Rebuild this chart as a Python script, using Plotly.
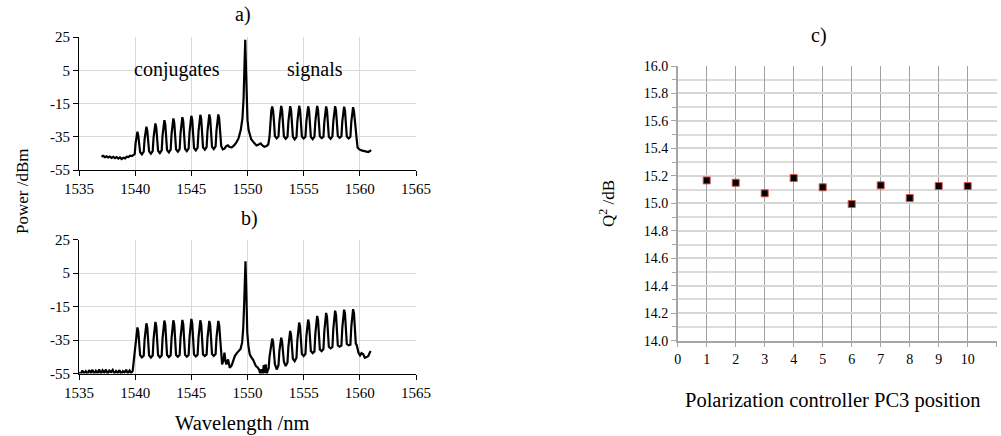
import plotly.graph_objects as go

# ---------------- data ----------------
# a) spectrum (wavelength nm, power dBm)
spec_a = [
    (1537.0,-47.0),(1537.15,-46.5),(1537.3,-47.3),(1537.45,-46.8),(1537.6,-47.5),(1537.75,-46.9),(1537.9,-47.7),
    (1538.05,-47.1),(1538.2,-47.9),(1538.35,-47.2),(1538.5,-48.1),(1538.65,-47.4),(1538.8,-48.4),(1538.95,-47.6),
    (1539.1,-48.0),(1539.25,-47.0),(1539.4,-47.2),(1539.55,-46.4),(1539.7,-46.6),(1539.85,-45.8),(1539.96,-45.4),
    (1540.04,-38.7),(1540.12,-34.5),(1540.2,-32.0),(1540.28,-34.5),(1540.36,-38.7),(1540.44,-44.2),(1540.6,-45.6),
    (1540.76,-44.0),(1540.84,-36.5),(1540.92,-31.5),(1541.0,-29.0),(1541.08,-31.5),(1541.16,-36.5),(1541.24,-43.8),(1541.4,-45.2),
    (1541.56,-43.6),(1541.64,-35.3),(1541.72,-29.5),(1541.8,-27.0),(1541.88,-29.5),(1541.96,-35.3),(1542.04,-43.4),(1542.2,-44.8),
    (1542.36,-43.2),(1542.44,-34.1),(1542.52,-27.5),(1542.6,-25.0),(1542.68,-27.5),(1542.76,-34.1),(1542.84,-43.0),(1543.0,-44.4),
    (1543.16,-42.8),(1543.24,-33.4),(1543.32,-26.5),(1543.4,-24.0),(1543.48,-26.5),(1543.56,-33.4),(1543.64,-42.6),(1543.8,-44.0),
    (1543.96,-42.4),(1544.04,-32.8),(1544.12,-25.7),(1544.2,-23.2),(1544.28,-25.7),(1544.36,-32.8),(1544.44,-42.2),(1544.6,-43.6),
    (1544.76,-42.0),(1544.84,-32.2),(1544.92,-24.9),(1545.0,-22.4),(1545.08,-24.9),(1545.16,-32.2),(1545.24,-41.8),(1545.4,-43.2),
    (1545.56,-41.6),(1545.64,-31.7),(1545.72,-24.3),(1545.8,-21.8),(1545.88,-24.3),(1545.96,-31.7),(1546.04,-41.4),(1546.2,-42.8),
    (1546.36,-41.2),(1546.44,-31.4),(1546.52,-24.1),(1546.6,-21.6),(1546.68,-24.1),(1546.76,-31.4),(1546.84,-41.0),(1547.0,-42.4),
    (1547.16,-40.8),(1547.24,-31.2),(1547.32,-24.1),(1547.4,-21.6),(1547.48,-24.1),(1547.56,-31.2),(1547.66,-40.5),
    (1547.8,-42.6),(1547.95,-42.2),(1548.1,-40.6),(1548.25,-40.2),(1548.4,-41.2),(1548.6,-41.4),(1548.8,-40.2),
    (1549.0,-38.5),(1549.2,-36.0),(1549.4,-31.0),(1549.55,-24.0),(1549.65,-12.0),(1549.72,5.0),(1549.8,23.4),
    (1549.87,5.0),(1549.93,-12.0),(1550.0,-25.0),(1550.1,-31.0),(1550.33,-36.5),(1550.6,-38.8),(1550.8,-40.2),
    (1551.0,-39.6),(1551.17,-39.0),(1551.35,-40.4),(1551.5,-41.0),(1551.7,-40.6),(1551.85,-39.6),(1551.96,-35.0),
    (1552.04,-26.0),(1552.12,-19.3),(1552.2,-16.8),(1552.28,-19.3),(1552.36,-26.0),(1552.44,-34.6),(1552.6,-36.0),
    (1552.76,-34.8),(1552.84,-25.8),(1552.92,-19.0),(1553.0,-16.5),(1553.08,-19.0),(1553.16,-25.8),(1553.24,-34.7),(1553.4,-36.2),
    (1553.56,-35.0),(1553.64,-25.9),(1553.72,-19.1),(1553.8,-16.6),(1553.88,-19.1),(1553.96,-25.9),(1554.04,-34.9),(1554.2,-36.6),
    (1554.36,-35.2),(1554.44,-25.8),(1554.52,-18.9),(1554.6,-16.4),(1554.68,-18.9),(1554.76,-25.8),(1554.84,-34.8),(1555.0,-36.0),
    (1555.16,-35.0),(1555.24,-25.9),(1555.32,-19.2),(1555.4,-16.7),(1555.48,-19.2),(1555.56,-25.9),(1555.64,-35.1),(1555.8,-36.4),
    (1555.96,-34.9),(1556.04,-25.7),(1556.12,-19.0),(1556.2,-16.5),(1556.28,-19.0),(1556.36,-25.7),(1556.44,-34.7),(1556.6,-35.8),
    (1556.76,-35.1),(1556.84,-26.0),(1556.92,-19.3),(1557.0,-16.8),(1557.08,-19.3),(1557.16,-26.0),(1557.24,-35.0),(1557.4,-36.2),
    (1557.56,-34.8),(1557.64,-25.7),(1557.72,-19.1),(1557.8,-16.6),(1557.88,-19.1),(1557.96,-25.7),(1558.04,-34.6),(1558.2,-35.6),
    (1558.36,-34.7),(1558.44,-25.8),(1558.52,-19.4),(1558.6,-16.9),(1558.68,-19.4),(1558.76,-25.8),(1558.84,-34.9),(1559.0,-36.0),
    (1559.16,-35.0),(1559.24,-26.1),(1559.32,-19.7),(1559.4,-17.2),(1559.48,-19.7),(1559.56,-26.1),(1559.64,-35.2),
    (1559.72,-36.5),(1559.8,-41.5),(1559.95,-42.6),(1560.15,-43.2),(1560.35,-43.6),(1560.55,-44.0),(1560.75,-44.2),
    (1560.9,-43.6),(1561.0,-43.0),
]

# b) spectrum (wavelength nm, power dBm)
spec_b = [
    (1535.0,-54.4),(1535.15,-55.6),(1535.3,-53.2),(1535.45,-54.9),(1535.6,-53.6),(1535.75,-55.5),(1535.9,-53.0),
    (1536.05,-54.6),(1536.2,-52.8),(1536.35,-55.3),(1536.5,-53.4),(1536.65,-54.8),(1536.8,-52.6),(1536.95,-55.2),
    (1537.1,-53.1),(1537.25,-54.5),(1537.4,-52.7),(1537.55,-55.4),(1537.7,-53.3),(1537.85,-54.2),(1538.0,-52.9),
    (1538.15,-55.1),(1538.3,-53.5),(1538.45,-54.7),(1538.6,-53.0),(1538.75,-55.3),(1538.9,-53.6),(1539.05,-54.4),
    (1539.2,-52.8),(1539.35,-55.0),(1539.5,-53.2),(1539.65,-54.6),(1539.78,-53.4),(1539.86,-48.0),(1539.94,-46.0),
    (1540.04,-36.0),(1540.12,-30.0),(1540.2,-27.5),(1540.28,-30.0),(1540.36,-36.0),(1540.44,-44.0),(1540.6,-45.4),
    (1540.76,-44.4),(1540.84,-34.7),(1540.92,-27.5),(1541.0,-25.0),(1541.08,-27.5),(1541.16,-34.7),(1541.24,-44.2),(1541.4,-45.5),
    (1541.56,-44.3),(1541.64,-34.3),(1541.72,-26.7),(1541.8,-24.2),(1541.88,-26.7),(1541.96,-34.3),(1542.04,-44.0),(1542.2,-45.3),
    (1542.36,-44.2),(1542.44,-33.9),(1542.52,-25.9),(1542.6,-23.4),(1542.68,-25.9),(1542.76,-33.9),(1542.84,-44.0),(1543.0,-45.2),
    (1543.16,-44.1),(1543.24,-33.8),(1543.32,-25.7),(1543.4,-23.2),(1543.48,-25.7),(1543.56,-33.8),(1543.64,-43.9),(1543.8,-45.0),
    (1543.96,-44.0),(1544.04,-33.6),(1544.12,-25.5),(1544.2,-23.0),(1544.28,-25.5),(1544.36,-33.6),(1544.44,-43.8),(1544.6,-45.0),
    (1544.76,-43.9),(1544.84,-33.3),(1544.92,-24.9),(1545.0,-22.4),(1545.08,-24.9),(1545.16,-33.3),(1545.24,-43.7),(1545.4,-44.8),
    (1545.56,-43.8),(1545.64,-33.6),(1545.72,-25.7),(1545.8,-23.2),(1545.88,-25.7),(1545.96,-33.6),(1546.04,-43.6),(1546.2,-44.6),
    (1546.36,-43.6),(1546.44,-33.7),(1546.52,-26.1),(1546.6,-23.6),(1546.68,-26.1),(1546.76,-33.7),(1546.84,-43.4),(1547.0,-44.5),
    (1547.16,-43.4),(1547.24,-33.5),(1547.32,-26.1),(1547.4,-23.6),(1547.48,-26.1),(1547.56,-33.5),(1547.64,-43.8),
    (1547.74,-49.6),(1547.86,-47.0),(1547.95,-42.6),(1548.05,-48.0),(1548.12,-49.6),(1548.27,-46.6),(1548.42,-51.6),
    (1548.6,-50.0),(1548.75,-46.5),(1548.87,-44.6),(1549.05,-42.8),(1549.2,-41.6),(1549.38,-40.4),(1549.52,-36.6),
    (1549.62,-28.0),(1549.7,-14.0),(1549.76,-2.0),(1549.82,12.0),(1549.88,-2.0),(1549.93,-18.0),(1549.98,-30.6),
    (1550.08,-38.5),(1550.2,-43.6),(1550.35,-45.4),(1550.5,-46.8),(1550.75,-50.6),(1550.9,-51.4),(1551.04,-52.8),
    (1551.15,-55.6),(1551.25,-52.5),(1551.35,-55.8),(1551.45,-50.0),(1551.55,-54.8),(1551.62,-49.6),(1551.72,-55.6),
    (1551.8,-53.0),(1551.88,-52.0),(1551.96,-45.0),
    (1552.04,-40.0),(1552.12,-36.2),(1552.2,-34.2),(1552.28,-36.2),(1552.36,-42.0),(1552.44,-49.5),(1552.6,-52.6),
    (1552.76,-50.0),(1552.84,-41.5),(1552.92,-36.0),(1553.0,-33.6),(1553.08,-36.0),(1553.16,-41.5),(1553.24,-48.0),(1553.4,-50.6),
    (1553.56,-48.4),(1553.64,-39.0),(1553.72,-32.1),(1553.8,-29.6),(1553.88,-32.1),(1553.96,-38.6),(1554.04,-46.2),(1554.2,-47.6),
    (1554.36,-45.6),(1554.44,-35.1),(1554.52,-27.1),(1554.6,-24.6),(1554.68,-27.1),(1554.76,-34.6),(1554.84,-43.4),(1555.0,-44.6),
    (1555.16,-43.2),(1555.24,-33.0),(1555.32,-25.3),(1555.4,-22.8),(1555.48,-25.3),(1555.56,-32.7),(1555.64,-41.6),(1555.8,-42.8),
    (1555.96,-41.8),(1556.04,-31.2),(1556.12,-23.1),(1556.2,-20.6),(1556.28,-23.1),(1556.36,-31.1),(1556.44,-40.6),(1556.6,-41.6),
    (1556.76,-40.4),(1556.84,-29.6),(1556.92,-21.3),(1557.0,-18.8),(1557.08,-21.3),(1557.16,-29.2),(1557.24,-39.0),(1557.4,-40.0),
    (1557.56,-39.2),(1557.64,-28.4),(1557.72,-20.0),(1557.8,-17.5),(1557.88,-20.0),(1557.96,-28.0),(1558.04,-38.2),(1558.2,-39.0),
    (1558.36,-38.4),(1558.44,-27.7),(1558.52,-19.4),(1558.6,-16.9),(1558.68,-19.4),(1558.76,-27.3),(1558.84,-37.4),(1559.0,-38.2),
    (1559.16,-37.8),(1559.24,-27.2),(1559.32,-19.1),(1559.4,-16.6),(1559.48,-19.1),(1559.56,-27.0),(1559.64,-37.2),
    (1559.72,-38.0),(1559.8,-40.5),(1559.88,-42.6),(1560.02,-44.2),(1560.15,-42.8),(1560.3,-43.5),(1560.45,-45.6),
    (1560.6,-45.2),(1560.75,-44.6),(1560.88,-42.6),(1560.96,-41.6),
]

wl_a = [p[0] for p in spec_a]
pw_a = [p[1] for p in spec_a]
wl_b = [p[0] for p in spec_b]
pw_b = [p[1] for p in spec_b]

# c) Q^2 vs polarization controller position
pc_pos = [1, 2, 3, 4, 5, 6, 7, 8, 9, 10]
q2_db = [15.167, 15.150, 15.073, 15.184, 15.117, 14.995, 15.131, 15.039, 15.126, 15.126]

wl_ticks = [1535, 1540, 1545, 1550, 1555, 1560, 1565]
pw_ticks = [-55, -35, -15, 5, 25]
pw_ticklabels = ["-55", "-35", "-15", "5", "25"]
pc_ticks = [0, 1, 2, 3, 4, 5, 6, 7, 8, 9, 10, 11]
q_ticks = [14.0, 14.2, 14.4, 14.6, 14.8, 15.0, 15.2, 15.4, 15.6, 15.8, 16.0]

# ---------------- figure ----------------
FONT = "Liberation Serif"
W, H = 1001, 436

def px(x):
    return x / W

def py(y):
    return 1 - y / H

fig = go.Figure()
fig.add_trace(go.Scatter(x=wl_a, y=pw_a, mode="lines", line=dict(color="black", width=2.2),
                         xaxis="x", yaxis="y", showlegend=False))
fig.add_trace(go.Scatter(x=wl_b, y=pw_b, mode="lines", line=dict(color="black", width=2.2),
                         xaxis="x2", yaxis="y2", showlegend=False))
fig.add_trace(go.Scatter(x=pc_pos, y=q2_db, mode="markers",
                         marker=dict(symbol="square", size=7, color="black",
                                     line=dict(color="#d9534f", width=1)),
                         xaxis="x3", yaxis="y3", showlegend=False))

tickfont_ab = dict(family=FONT, size=15, color="black")
tickfont_c = dict(family=FONT, size=14, color="black")

def spec_x(anchor):
    return dict(domain=[px(79), px(416)], range=[1535, 1565], tickvals=wl_ticks,
                ticktext=[str(v) for v in wl_ticks],
                showgrid=True, gridcolor="#d9d9d9", gridwidth=1,
                showline=True, linecolor="black", linewidth=1,
                ticks="outside", ticklen=5, tickcolor="black",
                tickfont=tickfont_ab, zeroline=False, anchor=anchor, automargin=False)

def spec_y(anchor, top, bottom):
    return dict(domain=[py(bottom), py(top)], range=[-55, 25], tickvals=pw_ticks,
                ticktext=pw_ticklabels,
                showgrid=True, gridcolor="#d9d9d9", gridwidth=1,
                showline=True, linecolor="black", linewidth=1,
                ticks="outside", ticklen=5, tickcolor="black",
                tickfont=tickfont_ab, zeroline=False, anchor=anchor, automargin=False)

fig.update_layout(
    width=W, height=H,
    margin=dict(l=0, r=0, t=0, b=0, pad=0),
    paper_bgcolor="white", plot_bgcolor="white",
    font=dict(family=FONT, color="black"),
    xaxis=spec_x("y"),
    yaxis=spec_y("x", 37, 170),
    xaxis2=spec_x("y2"),
    yaxis2=spec_y("x2", 239.5, 373.5),
    xaxis3=dict(domain=[px(677.7), px(996.7)], range=[0, 11], tickvals=pc_ticks,
                ticktext=[str(v) for v in pc_ticks],
                showgrid=True, gridcolor="#a0a0a0", gridwidth=1,
                showline=True, linecolor="#a6a6a6", linewidth=1.5,
                ticks="outside", ticklen=5, tickcolor="#a6a6a6",
                tickfont=tickfont_c, zeroline=False, anchor="y3", automargin=False),
    yaxis3=dict(domain=[py(340.7), py(66)], range=[14, 16], tickvals=q_ticks,
                ticktext=["%.1f" % v for v in q_ticks],
                showgrid=True, gridcolor="#d6d6d6", gridwidth=2,
                minor=dict(dtick=0.1, showgrid=True, gridcolor="#dcdcdc", gridwidth=2,
                           ticks="outside", ticklen=4, tickcolor="#a6a6a6"),
                showline=True, linecolor="#a6a6a6", linewidth=1.5,
                ticks="outside", ticklen=5, tickcolor="#a6a6a6",
                tickfont=tickfont_c, zeroline=False, anchor="x3", automargin=False),
)

ann = []
def add_text(text, x, y, size, angle=0):
    ann.append(dict(text=text, x=px(x), y=py(y), xref="paper", yref="paper",
                    showarrow=False, textangle=angle, xanchor="center", yanchor="middle",
                    font=dict(family=FONT, size=size, color="black")))

add_text("a)", 243, 15, 20)
add_text("b)", 249, 218, 20)
add_text("c)", 819, 35, 20)
add_text("Wavelength /nm", 242, 423, 20.5)
add_text("Power /dBm", 22, 192, 17, -90)
add_text("Polarization controller PC3 position", 833, 400, 20.5)
add_text("Q<sup>2</sup> /dB", 607, 204, 17, -90)

ann.append(dict(text="conjugates", x=1543.7, y=5.5, xref="x", yref="y", showarrow=False,
                font=dict(family=FONT, size=20, color="black")))
ann.append(dict(text="signals", x=1556.0, y=5.5, xref="x", yref="y", showarrow=False,
                font=dict(family=FONT, size=20, color="black")))

fig.update_layout(annotations=ann)

fig.write_html("out.html", config={"displayModeBar": False},
               post_script="document.body.style.margin='0';document.body.style.padding='0';"
                           "document.body.style.overflow='hidden';")
